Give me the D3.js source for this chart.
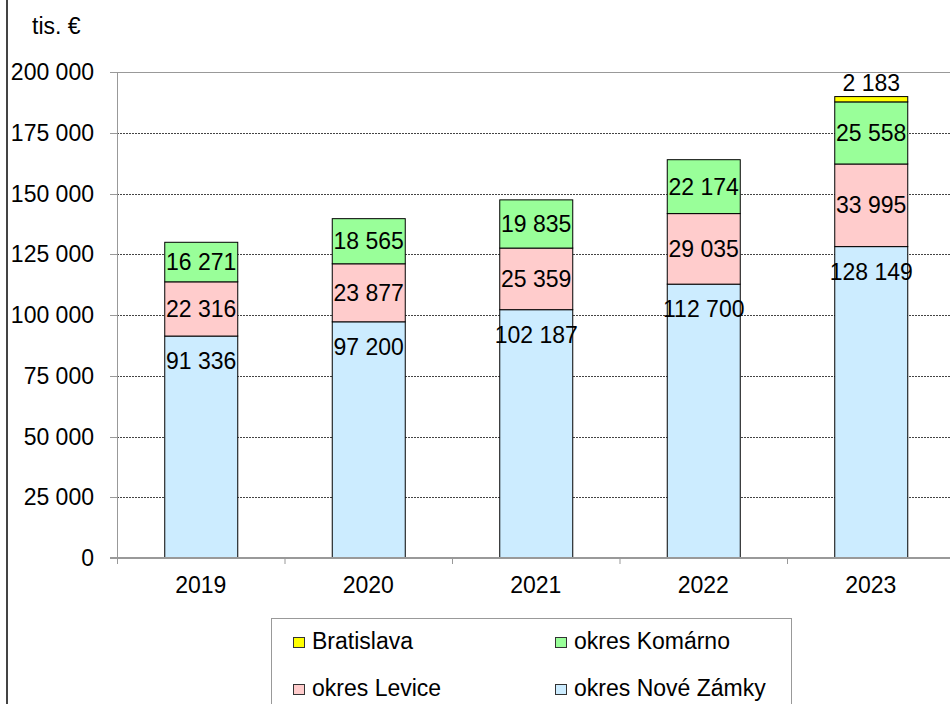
<!DOCTYPE html>
<html><head><meta charset="utf-8">
<script src="https://cdn.jsdelivr.net/npm/d3@7"></script>
<style>body{margin:0;background:#fff}svg{display:block}text{font-family:"Liberation Sans",Arial,sans-serif}</style>
</head><body>
<svg id="c" width="950" height="704"></svg>
<script>
const years = ["2019","2020","2021","2022","2023"];
const noveZamky = [91336, 97200, 102187, 112700, 128149];
const levice = [22316, 23877, 25359, 29035, 33995];
const komarno = [16271, 18565, 19835, 22174, 25558];
const bratislava = [0, 0, 0, 0, 2183];
const seriesNames = ["okres Nové Zámky","okres Levice","okres Komárno","Bratislava"];
const seriesColors = ["#CCECFF","#FFCCCC","#99FF99","#FFFF00"];
const yTicks = [0,25000,50000,75000,100000,125000,150000,175000,200000];
const unitLabel = "tis. €";

const loc = d3.formatLocale({decimal:",", thousands:" ", grouping:[3], currency:["","€"]});
const fmt = loc.format(",");

const svg = d3.select("#c");
const x0 = 117, step = 167.5;
const x = d3.scaleBand().domain(years).range([x0, x0 + step*years.length]).paddingInner(1-73/167.5).paddingOuter((1-73/167.5)/2);
const y = d3.scaleLinear().domain([0,200000]).range([558,72]);

// left border
svg.append("line").attr("x1",7).attr("x2",7).attr("y1",0).attr("y2",704).attr("stroke","#444").attr("stroke-width",2);

// gridlines
svg.append("g").selectAll("line").data(yTicks.filter(t=>t>0)).join("line")
  .attr("x1",x0).attr("x2",950).attr("y1",d=>Math.round(y(d))+0.5).attr("y2",d=>Math.round(y(d))+0.5)
  .attr("stroke", d=> d===200000 ? "#999" : "#444")
  .attr("stroke-dasharray", d=> d===200000 ? null : "2,1");

// stacked data
const rows = years.map((yr,i)=>({year:yr, "okres Nové Zámky":noveZamky[i], "okres Levice":levice[i], "okres Komárno":komarno[i], "Bratislava":bratislava[i]}));
const stack = d3.stack().keys(seriesNames)(rows);

const g = svg.append("g");
stack.forEach((s,si)=>{
  g.selectAll(null).data(s.filter(d=>d[1]-d[0]>0)).join("rect")
    .attr("x",d=>x(d.data.year)+0.5).attr("width",x.bandwidth())
    .attr("y",d=>y(d[1])).attr("height",d=>y(d[0])-y(d[1]))
    .attr("fill",seriesColors[si]).attr("stroke","#000").attr("stroke-width",1);
});

// labels
stack.forEach((s,si)=>{
  g.selectAll(null).data(s.filter(d=>d[1]-d[0]>0)).join("text")
    .attr("x",d=>x(d.data.year)+x.bandwidth()/2+0.5)
    .attr("y",d=>{
      if(si===0) return y(d[1])+25;
      if(si===3) return y(d[1])-14;
      return (y(d[0])+y(d[1]))/2;
    })
    .attr("dy","0.35em").attr("text-anchor","middle").attr("font-size",23).attr("fill","#000")
    .text(d=>fmt(d[1]-d[0]));
});

// y axis
const ya = svg.append("g");
ya.append("line").attr("x1",x0+0.5).attr("x2",x0+0.5).attr("y1",72).attr("y2",558).attr("stroke","#999");
ya.selectAll("line.t").data(yTicks).join("line").attr("class","t")
  .attr("x1",110).attr("x2",x0).attr("y1",d=>Math.round(y(d))+0.5).attr("y2",d=>Math.round(y(d))+0.5).attr("stroke","#999");
ya.selectAll("text").data(yTicks).join("text")
  .attr("x",94).attr("y",d=>y(d)).attr("dy","0.35em").attr("text-anchor","end").attr("font-size",23).text(d=>fmt(d));

// x axis
const xa = svg.append("g");
xa.append("line").attr("x1",x0-7).attr("x2",950).attr("y1",558).attr("y2",558).attr("stroke","#999").attr("stroke-width",2);
xa.selectAll("line.t").data(d3.range(years.length+1)).join("line").attr("class","t")
  .attr("x1",d=>x0+d*step+0.5).attr("x2",d=>x0+d*step+0.5).attr("y1",558).attr("y2",564).attr("stroke","#999");
xa.selectAll("text").data(years).join("text")
  .attr("x",d=>x(d)+x.bandwidth()/2).attr("y",593).attr("text-anchor","middle").attr("font-size",23).text(d=>d);

// unit
svg.append("text").attr("x",32).attr("y",34).attr("font-size",23).text(unitLabel);

// legend
const lg = svg.append("g");
lg.append("rect").attr("x",271.5).attr("y",618.5).attr("width",520).attr("height",100).attr("fill","#fff").attr("stroke","#999");
const legItems = [
  {name:"Bratislava", color:seriesColors[3], x:293, y:637},
  {name:"okres Komárno", color:seriesColors[2], x:555, y:637},
  {name:"okres Levice", color:seriesColors[1], x:293, y:684},
  {name:"okres Nové Zámky", color:seriesColors[0], x:555, y:684}
];
const li = lg.selectAll("g").data(legItems).join("g");
li.append("rect").attr("x",d=>d.x+0.5).attr("y",d=>d.y+0.5).attr("width",11).attr("height",10).attr("fill",d=>d.color).attr("stroke","#333");
li.append("text").attr("x",d=>d.x+19).attr("y",d=>d.y+12).attr("font-size",23).text(d=>d.name);
</script>
</body></html>
